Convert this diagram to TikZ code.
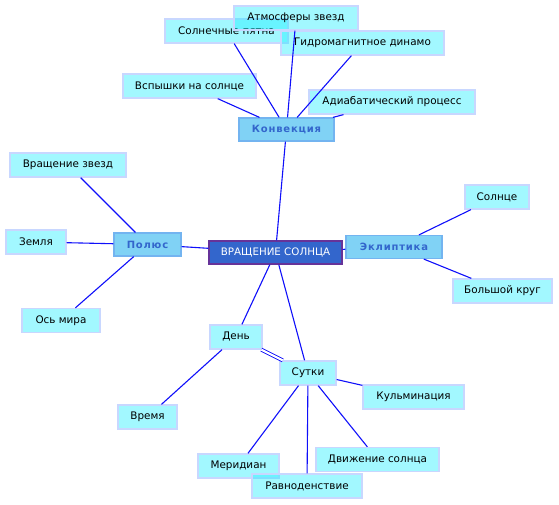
\documentclass[tikz,border=0pt]{standalone}
\usepackage{fontspec}
\setmainfont{DejaVu Sans}
\newfontfamily\hubfont[LetterSpace=8]{DejaVu Sans Bold}

\definecolor{linkblue}{RGB}{15,15,250}
\definecolor{leaffill}{RGB}{10,237,255}
\definecolor{leafedge}{RGB}{200,215,255}
\definecolor{hubfill}{RGB}{128,210,245}
\definecolor{hubedge}{RGB}{115,180,240}
\definecolor{hubtext}{RGB}{51,102,204}
\definecolor{rootfill}{RGB}{51,102,204}
\definecolor{rootedge}{RGB}{102,51,153}

\tikzset{
  leaf/.style={draw=leafedge, line width=1.3pt, fill=leaffill, fill opacity=0.38, text opacity=1, minimum height=24, inner sep=0pt, font=\fontsize{10.4}{12}\selectfont},
  hub/.style={draw=hubedge, line width=1.2pt, fill=hubfill, text=hubtext, minimum height=23, inner sep=0pt, font=\hubfont\fontsize{10}{12}\selectfont},
  link/.style={draw=linkblue, line width=1.1pt}
}

\begin{document}
\begin{tikzpicture}[x=1pt, y=-1pt]
  \useasboundingbox (0,0) rectangle (559,505);

  % root
  \node[draw=rootedge, line width=1.4pt, fill=rootfill, text=white, minimum width=133, minimum height=23, inner sep=0pt, font=\fontsize{10.3}{12}\selectfont] (root) at (275.5,252.5) {ВРАЩЕНИЕ СОЛНЦА};

  % hubs
  \node[hub, minimum width=95] (konv) at (286.5,129.5) {Конвекция};
  \node[hub, minimum width=67] (polus) at (147.5,244.5) {Полюс};
  \node[hub, minimum width=96] (eklip) at (394,247) {Эклиптика};

  % leaves round Конвекция
  \node[leaf, minimum width=123] (pyatna) at (226.5,31) {Солнечные пятна};
  \node[leaf, minimum width=124] (atmos) at (296,18) {Атмосферы звезд};
  \node[leaf, minimum width=163] (dinamo) at (362.5,43) {Гидромагнитное динамо};
  \node[leaf, minimum width=133] (vspysh) at (189.5,86) {Вспышки на солнце};
  \node[leaf, minimum width=166] (adiab) at (392,102) {Адиабатический процесс};

  % leaves round Полюс
  \node[leaf, minimum width=116] (vrzvezd) at (68,165) {Вращение звезд};
  \node[leaf, minimum width=60] (zemlya) at (36,242) {Земля};
  \node[leaf, minimum width=78] (osmira) at (61,320.5) {Ось мира};

  % leaves round Эклиптика
  \node[leaf, minimum width=64] (solnce) at (497,197) {Солнце};
  \node[leaf, minimum width=99] (krug) at (502.5,291) {Большой круг};

  % day and its leaves
  \node[leaf, minimum width=52] (den) at (236,337) {День};
  \node[leaf, minimum width=56] (sutki) at (308,373) {Сутки};
  \node[leaf, minimum width=101] (kulm) at (413.5,397) {Кульминация};
  \node[leaf, minimum width=59] (vremya) at (147.5,417) {Время};
  \node[leaf, minimum width=81] (merid) at (238.5,466) {Меридиан};
  \node[leaf, minimum width=123] (dvizh) at (377.5,459.5) {Движение солнца};
  \node[leaf, minimum width=110] (ravnod) at (307,486) {Равноденствие};

  % links
  \draw[link] (root) -- (konv);
  \draw[link] (root) -- (polus);
  \draw[link] (root) -- (eklip);
  \draw[link] (root) -- (den);
  \draw[link] (root) -- (sutki);
  \foreach \t in {pyatna, atmos, dinamo, vspysh, adiab}
    \draw[link] (konv) -- (\t);
  \foreach \t in {vrzvezd, zemlya, osmira}
    \draw[link] (polus) -- (\t);
  \foreach \t in {solnce, krug}
    \draw[link] (eklip) -- (\t);
  \draw[link, double=white, double distance=2.2pt, line width=0.9pt] (den) -- (sutki);
  \draw[link] (den) -- (vremya);
  \foreach \t in {kulm, merid, ravnod, dvizh}
    \draw[link] (sutki) -- (\t);
\end{tikzpicture}
\end{document}
